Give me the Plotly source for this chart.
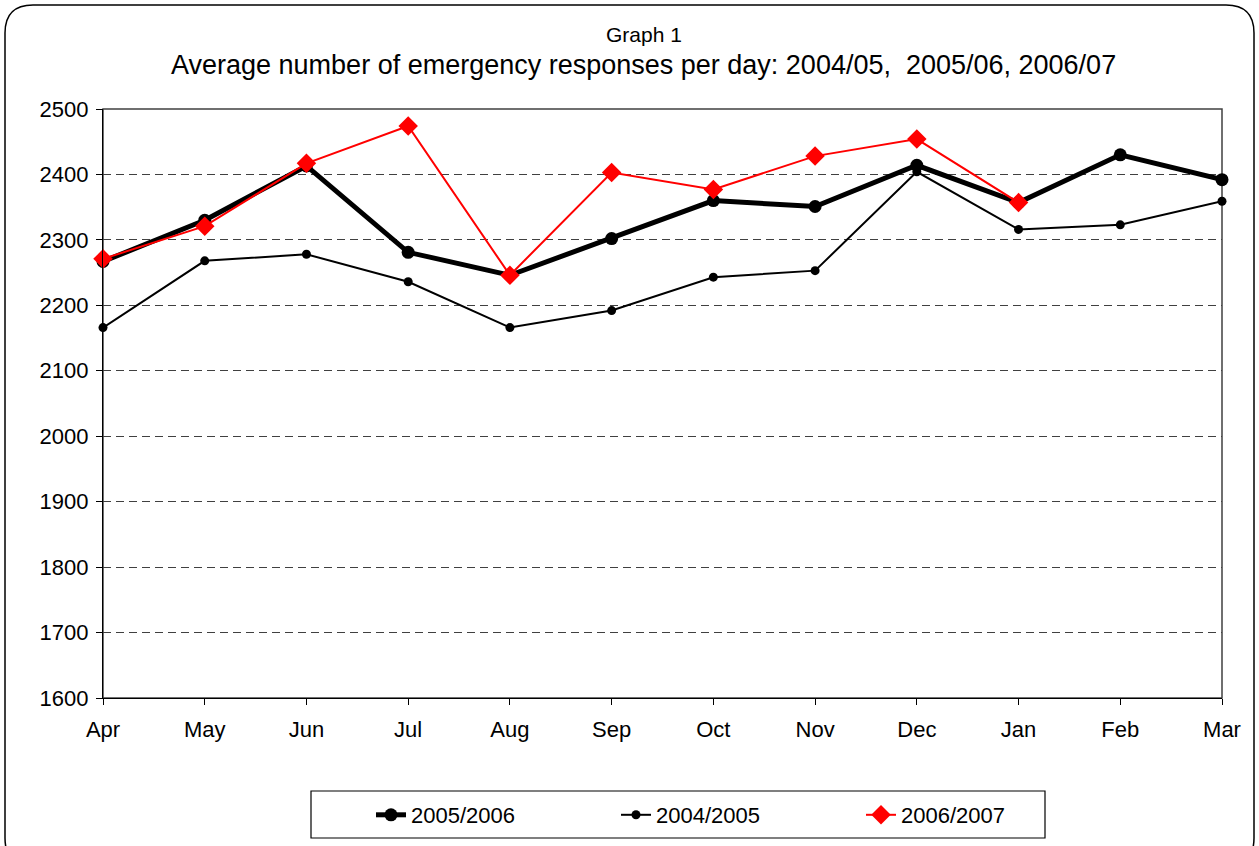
import plotly.graph_objects as go

months = ["Apr", "May", "Jun", "Jul", "Aug", "Sep", "Oct", "Nov", "Dec", "Jan", "Feb", "Mar"]
y2005_06 = [2267, 2330, 2413, 2281, 2246, 2302, 2360, 2351, 2414, 2357, 2430, 2392]
y2004_05 = [2166, 2268, 2278, 2236, 2166, 2192, 2243, 2253, 2404, 2316, 2323, 2359]
y2006_07 = [2271, 2321, 2417, 2474, 2246, 2403, 2377, 2428, 2454, 2357, None, None]

FONT = "Liberation Sans, Arial, sans-serif"

# plot area in pixels
L, R, T, B = 103, 1222, 109, 698
W, H = 1259, 846
def px(x):
    return (x - L) / (R - L)
def py(y):
    return (B - y) / (B - T)

fig = go.Figure()
fig.add_trace(go.Scatter(x=months, y=y2005_06, name="2005/2006", mode="lines+markers",
                         line=dict(color="black", width=5),
                         marker=dict(symbol="circle", size=13, color="black"),
                         cliponaxis=False))
fig.add_trace(go.Scatter(x=months, y=y2004_05, name="2004/2005", mode="lines+markers",
                         line=dict(color="black", width=2),
                         marker=dict(symbol="circle", size=9, color="black"),
                         cliponaxis=False))
fig.add_trace(go.Scatter(x=months, y=y2006_07, name="2006/2007", mode="lines+markers",
                         line=dict(color="#ff0000", width=2),
                         marker=dict(symbol="diamond", size=15, color="#ff0000"),
                         cliponaxis=False))

# outer rounded border
x0, x1, y0, y1, r = 5, 1254, 5, 866, 28
path = (f"M{px(x0+r)},{py(y0)} L{px(x1-r)},{py(y0)} "
        f"Q{px(x1)},{py(y0)} {px(x1)},{py(y0+r)} L{px(x1)},{py(y1-r)} "
        f"Q{px(x1)},{py(y1)} {px(x1-r)},{py(y1)} L{px(x0+r)},{py(y1)} "
        f"Q{px(x0)},{py(y1)} {px(x0)},{py(y1-r)} L{px(x0)},{py(y0+r)} "
        f"Q{px(x0)},{py(y0)} {px(x0+r)},{py(y0)} Z")

fig.update_layout(
    width=W, height=H,
    margin=dict(l=L, r=W - R, t=T, b=H - B, autoexpand=False),
    paper_bgcolor="white", plot_bgcolor="white",
    font=dict(family=FONT, color="black", size=22),
    showlegend=True,
    hovermode=False,
    legend=dict(orientation="h", x=px(371), xanchor="left", y=py(815), yanchor="middle",
                borderwidth=0, bgcolor="rgba(0,0,0,0)",
                font=dict(family=FONT, size=22, color="black"),
                entrywidth=200, entrywidthmode="pixels", traceorder="normal"),
    shapes=[
        dict(type="path", xref="paper", yref="paper", path=path,
             line=dict(color="black", width=1.5), layer="below"),
        dict(type="rect", xref="paper", yref="paper", x0=0, x1=1, y0=0, y1=1,
             line=dict(color="#404040", width=1.5), layer="below"),
        dict(type="rect", xref="paper", yref="paper", x0=px(311), x1=px(1045),
             y0=py(838), y1=py(791), line=dict(color="black", width=1.2), layer="below"),
    ],
    annotations=[
        dict(text="Graph 1", xref="paper", yref="paper", x=px(644), y=py(34),
             xanchor="center", yanchor="middle", showarrow=False,
             font=dict(family=FONT, size=21, color="black")),
        dict(text="Average number of emergency responses per day: 2004/05,  2005/06, 2006/07",
             xref="paper", yref="paper", x=px(643), y=py(65),
             xanchor="center", yanchor="middle", showarrow=False,
             font=dict(family=FONT, size=27, color="black")),
    ],
)
fig.update_xaxes(type="category", range=[0, 11], showline=True, linecolor="black", linewidth=1.2,
                 ticks="outside", ticklen=6, tickcolor="black", showgrid=False,
                 ticklabelstandoff=5,
                 tickfont=dict(size=22), zeroline=False)
fig.update_yaxes(range=[1600, 2500], dtick=100, showline=True, linecolor="black", linewidth=1.2,
                 ticks="outside", ticklen=6, tickcolor="black",
                 showgrid=True, gridcolor="#404040", gridwidth=1, griddash="8px,5px",
                 ticklabelstandoff=3,
                 tickfont=dict(size=22), zeroline=False)

fig.write_html("out.html", config={"displayModeBar": False},
               post_script="document.body.style.margin='0';document.body.style.padding='0';")
